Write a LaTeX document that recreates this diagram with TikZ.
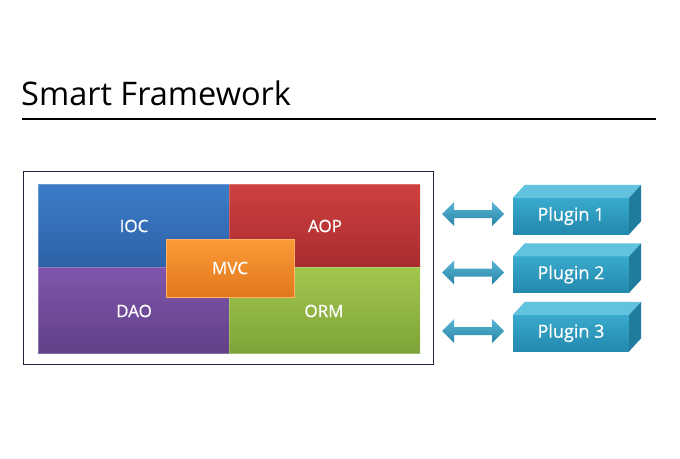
\documentclass[tikz,border=0pt]{standalone}
\usepackage{fontspec}
\setmainfont{Open Sans}
\newfontfamily\lblfont[FakeBold=0.7]{Open Sans}
\usetikzlibrary{calc}
\definecolor{frameC}{HTML}{1C2638}
\definecolor{blueT}{HTML}{3C7CC8}\definecolor{blueB}{HTML}{2D62A6}
\definecolor{redT}{HTML}{CF4040}\definecolor{redB}{HTML}{A82C2E}
\definecolor{purT}{HTML}{7F56AC}\definecolor{purB}{HTML}{624088}
\definecolor{grnT}{HTML}{A2C74E}\definecolor{grnB}{HTML}{7EA43A}
\definecolor{orT}{HTML}{FA9A36}\definecolor{orB}{HTML}{E2781E}
\definecolor{plT}{HTML}{38AACD}\definecolor{plB}{HTML}{2389AD}
\definecolor{plTop}{HTML}{62C3DF}\definecolor{plSide}{HTML}{1F7C9C}
\definecolor{arT}{HTML}{5AB6D6}\definecolor{arB}{HTML}{2784A6}
\tikzset{
  lbl/.style={text=white, font=\lblfont\fontsize{17}{17}\selectfont},
  plugin/.style={inner sep=0pt, minimum width=116pt, minimum height=36pt, top color=plT, bottom color=plB, text=white, font=\lblfont\fontsize{18}{18}\selectfont},
  ptop/.style={fill=plTop},
  pside/.style={fill=plSide},
  dbl/.style={top color=arT, bottom color=arB, draw=none},
}
\begin{document}
\begin{tikzpicture}[x=1pt,y=-1pt]
\useasboundingbox (0,0) rectangle (680,458);
\fill[white] (0,0) rectangle (680,458);
% title
\node[anchor=base west, inner sep=0pt, font=\fontsize{32.5}{32.5}\selectfont] (title) at (21,105) {Smart Framework};
\coordinate (r1) at (22,119);
\coordinate (r2) at (656,119);
\draw[line width=2.5pt] (r1) -- (r2);
% frame
\node[draw=frameC, line width=1.3pt, inner sep=0pt, minimum width=410pt, minimum height=193pt, anchor=north west] (frame) at (23,171) {};
% blocks
\shade[top color=blueT, bottom color=blueB] (38,184) rectangle (229,267);
\shade[top color=redT, bottom color=redB] (229,184) rectangle (420,267);
\shade[top color=purT, bottom color=purB] (38,267) rectangle (229,353);
\shade[top color=grnT, bottom color=grnB] (229,267) rectangle (420,353);
\draw[white, opacity=0.25, line width=0.6pt] (38,184) rectangle (420,353);
\draw[white, opacity=0.2, line width=0.6pt] (229,184) -- (229,353) (38,267) -- (420,267);
\node[lbl] (ioc) at (134,226) {IOC};
\node[lbl] (aop) at (325,226) {AOP};
\node[lbl] (dao) at (134,311) {DAO};
\node[lbl] (orm) at (324,311) {ORM};
\node[lbl, inner sep=0pt, minimum width=128pt, minimum height=58pt, top color=orT, bottom color=orB, draw=orange!60!white, line width=0.8pt] (mvc) at (230,268) {MVC};
% plugins
\foreach \i/\y in {1/216,2/274.5,3/333}{
  \node[plugin] (p\i) at (571,\y) {Plugin \i};
  \fill[ptop] (p\i.north west) -- ++(12,-13) -- ($(p\i.north east)+(12,-13)$) -- (p\i.north east) -- cycle;
  \fill[pside] (p\i.north east) -- ++(12,-13) -- ($(p\i.south east)+(12,-13)$) -- (p\i.south east) -- cycle;
  \coordinate (a\i) at (473,\y-2);
  \shade[dbl] ($(a\i)+(-31,0)$) -- ($(a\i)+(-19,-12)$) -- ($(a\i)+(-19,-4)$) -- ($(a\i)+(19,-4)$) -- ($(a\i)+(19,-12)$) -- ($(a\i)+(31,0)$) -- ($(a\i)+(19,12)$) -- ($(a\i)+(19,4)$) -- ($(a\i)+(-19,4)$) -- ($(a\i)+(-19,12)$) -- cycle;
}
\end{tikzpicture}
\end{document}
